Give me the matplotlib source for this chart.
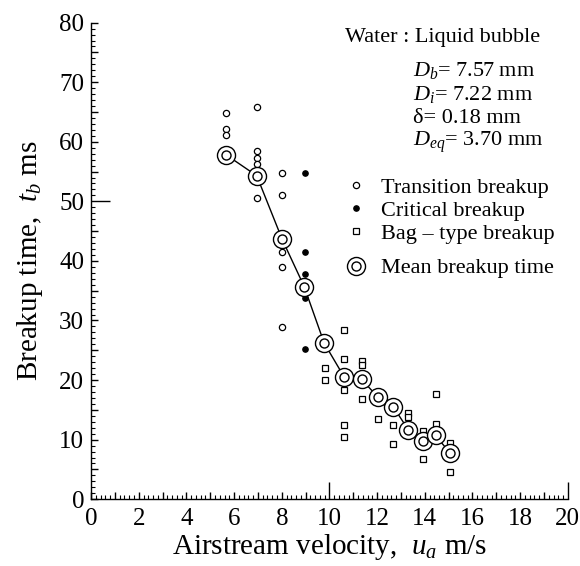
import numpy as np
import matplotlib
matplotlib.use("Agg")
import matplotlib.pyplot as plt
from matplotlib.ticker import MultipleLocator, FuncFormatter
from matplotlib.lines import Line2D

plt.rcParams['font.family'] = ['Liberation Serif', 'DejaVu Serif']
plt.rcParams['mathtext.fontset'] = 'custom'
plt.rcParams['mathtext.rm'] = 'Liberation Serif'
plt.rcParams['mathtext.it'] = 'Liberation Serif:italic'

# transition breakup (open circles)
trans_u = [5.67, 5.67, 5.67, 6.95, 6.95, 6.95, 6.95, 6.95, 8.02, 8.02, 8.02, 8.02, 8.02]
trans_t = [64.8, 62.2, 61.1, 65.8, 58.4, 57.3, 56.3, 50.6, 54.8, 51.0, 41.5, 39.0, 28.9]
# critical breakup (filled dots)
crit_u = [8.97, 8.97, 8.97, 8.97, 8.97]
crit_t = [54.8, 41.5, 37.8, 33.7, 25.2]
# bag-type breakup (squares)
bag_u = [9.81, 9.81, 10.62, 10.62, 10.62, 10.62, 10.62, 11.35, 11.35, 11.35,
         12.02, 12.68, 12.68, 13.3, 13.3, 13.93, 13.93, 14.45, 14.45, 15.05, 15.05]
bag_t = [22.0, 20.0, 28.4, 23.6, 18.3, 12.5, 10.4, 23.2, 22.5, 16.8,
         13.5, 12.5, 9.3, 14.5, 13.8, 11.4, 6.7, 17.7, 12.6, 9.4, 4.6]
# mean breakup time
mean_u = [5.67, 6.95, 8.02, 8.94, 9.78, 10.62, 11.35, 12.02, 12.68, 13.3, 13.93, 14.45, 15.05]
mean_t = [57.8, 54.3, 43.6, 35.7, 26.2, 20.5, 20.1, 17.2, 15.5, 11.7, 9.8, 10.7, 7.8]

fig = plt.figure(figsize=(5.8, 5.66), dpi=100)
ax = fig.add_axes([0.157, 0.118, 0.822, 0.842])

ax.plot(mean_u, mean_t, '-', color='k', lw=1, zorder=2)
ax.plot(trans_u, trans_t, 'o', ms=4.5, mfc='white', mec='k', mew=0.9, ls='none', zorder=3)
ax.plot(crit_u, crit_t, 'o', ms=3.8, mfc='k', mec='k', ls='none', zorder=3)
ax.plot(bag_u, bag_t, 's', ms=4.3, mfc='white', mec='k', mew=0.9, ls='none', zorder=3)
ax.plot(mean_u, mean_t, 'o', ms=13, mfc='white', mec='k', mew=1.0, ls='none', zorder=4)
ax.plot(mean_u, mean_t, 'o', ms=6.5, mfc='white', mec='k', mew=1.0, ls='none', zorder=5)

ax.set_xlim(0, 20)
ax.set_ylim(0, 80)
for s in ['top', 'right']:
    ax.spines[s].set_visible(False)
for s in ['left', 'bottom']:
    ax.spines[s].set_linewidth(1.0)

ax.xaxis.set_major_locator(MultipleLocator(1))
ax.xaxis.set_minor_locator(MultipleLocator(0.2))
ax.xaxis.set_major_formatter(FuncFormatter(lambda v, p: '%d' % v if int(round(v)) % 2 == 0 else ''))
ax.yaxis.set_major_locator(MultipleLocator(5))
ax.yaxis.set_minor_locator(MultipleLocator(1))
ax.yaxis.set_major_formatter(FuncFormatter(lambda v, p: '%d' % v if int(round(v)) % 10 == 0 else ''))
ax.tick_params(which='major', direction='in', length=5, width=1, labelsize=18)
ax.tick_params(axis='x', which='major', pad=6)
ax.tick_params(axis='y', which='major', pad=5)
ax.tick_params(which='minor', direction='in', length=3, width=0.8)

fig.canvas.draw()
for t in ax.xaxis.get_major_ticks():
    if abs(t.get_loc() - 10) < 1e-6 or abs(t.get_loc() - 20) < 1e-6:
        t.tick1line.set_markersize(12)
for t in ax.yaxis.get_major_ticks():
    if abs(t.get_loc() - 50) < 1e-6:
        t.tick1line.set_markersize(14)

ax.set_xlabel(r'Airstream velocity,  $u_a$ m/s', fontsize=21, labelpad=2)
ax.set_ylabel(r'Breakup time,  $t_b$ ms', fontsize=21, labelpad=10)

ax.text(0.941, 0.968, 'Water : Liquid bubble', transform=ax.transAxes, ha='right', va='center', fontsize=16)
info = [r'$D_b$= 7.57 mm', r'$D_i$= 7.22 mm', 'δ= 0.18 mm', r'$D_{eq}$= 3.70 mm']
for i, s in enumerate(info):
    ax.text(0.676, 0.900 - i * 0.0505, s, transform=ax.transAxes, ha='left', va='center', fontsize=16)

h1 = Line2D([], [], marker='o', ms=4.5, mfc='white', mec='k', mew=0.9, ls='none')
h2 = Line2D([], [], marker='o', ms=3.8, mfc='k', mec='k', ls='none')
h3 = Line2D([], [], marker='s', ms=4.3, mfc='white', mec='k', mew=0.9, ls='none')
leg1 = ax.legend([h1, h2, h3], ['Transition breakup', 'Critical breakup', 'Bag – type breakup'],
                 loc='upper left', bbox_to_anchor=(0.51, 0.698), frameon=False, fontsize=16,
                 handlelength=1.0, handletextpad=0.6, labelspacing=0.1, borderpad=0)
ax.add_artist(leg1)
hm1 = Line2D([], [], marker='o', ms=13, mfc='white', mec='k', mew=1.0, ls='none')
hm2 = Line2D([], [], marker='o', ms=6.5, mfc='white', mec='k', mew=1.0, ls='none')
ax.legend([(hm1, hm2)], ['Mean breakup time'], loc='upper left', bbox_to_anchor=(0.51, 0.53),
          frameon=False, fontsize=16, handlelength=1.0, handletextpad=0.6, borderpad=0)

fig.savefig('out.png', dpi=100)
